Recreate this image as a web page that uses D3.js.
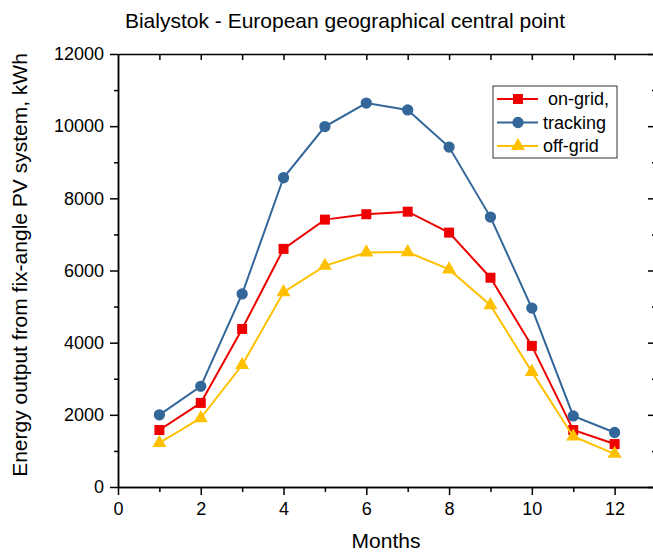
<!DOCTYPE html>
<html>
<head>
<meta charset="utf-8">
<script src="https://cdn.jsdelivr.net/npm/d3@7"></script>
<style>
  body { margin: 0; background: #fff; }
  text { font-family: "Liberation Sans", Arial, sans-serif; fill: #000; }
</style>
</head>
<body>
<div id="chart"></div>
<script>
var months = [1, 2, 3, 4, 5, 6, 7, 8, 9, 10, 11, 12];
var onGrid = [1580, 2330, 4380, 6600, 7410, 7560, 7630, 7050, 5800, 3910, 1580, 1190];
var tracking = [2000, 2790, 5350, 8570, 9990, 10640, 10450, 9420, 7480, 4960, 1970, 1510];
var offGrid = [1220, 1910, 3380, 5400, 6130, 6500, 6510, 6030, 5040, 3190, 1400, 920];
var xTicks = [0, 2, 4, 6, 8, 10, 12];
var yTicks = [0, 2000, 4000, 6000, 8000, 10000, 12000];

var series = [
  { name: " on-grid,", values: onGrid, color: "#ee0000", shape: d3.symbolSquare, size: 100 },
  { name: "tracking", values: tracking, color: "#336699", shape: d3.symbolCircle, size: 100 },
  { name: "off-grid", values: offGrid, color: "#ffc000", shape: d3.symbolTriangle, size: 85 }
];

var svgWidth = 653;
var svgHeight = 554;

var margin = { top: 54, right: -3, bottom: 67, left: 118 };
var chartWidth = svgWidth - margin.left - margin.right;
var chartHeight = svgHeight - margin.top - margin.bottom;

var svg = d3.select("#chart")
  .append("svg")
  .attr("width", svgWidth)
  .attr("height", svgHeight);

var chartGroup = svg.append("g")
  .attr("transform", `translate(${margin.left}, ${margin.top})`);

var xScale = d3.scaleLinear().domain([0, 13]).range([0, chartWidth]);
var yScale = d3.scaleLinear().domain([0, 12000]).range([chartHeight, 0]);

// axes: bottom / left outward, top / right inward
var oddMonths = d3.range(1, 13, 2);
var minorY = d3.range(1000, 12000, 2000);

function styleAxis(g) {
  g.selectAll("path, line").attr("stroke", "#000").attr("stroke-width", 1.5);
  g.selectAll("text").style("font-size", "18px").style("font-family", "Liberation Sans, Arial, sans-serif");
}

chartGroup.append("g")
  .attr("transform", `translate(0, ${chartHeight})`)
  .call(d3.axisBottom(xScale).tickValues(xTicks).tickSize(8).tickPadding(7).tickSizeOuter(0))
  .call(styleAxis);
chartGroup.append("g")
  .attr("transform", `translate(0, ${chartHeight})`)
  .call(d3.axisBottom(xScale).tickValues(oddMonths).tickSize(5).tickFormat("").tickSizeOuter(0))
  .call(styleAxis);

chartGroup.append("g")
  .call(d3.axisLeft(yScale).tickValues(yTicks).tickFormat(d3.format("d")).tickSize(8).tickPadding(6).tickSizeOuter(0))
  .call(styleAxis);
chartGroup.append("g")
  .call(d3.axisLeft(yScale).tickValues(minorY).tickSize(4).tickFormat("").tickSizeOuter(0))
  .call(styleAxis);

chartGroup.append("g")
  .call(d3.axisTop(xScale).tickValues(d3.range(1, 13)).tickSize(-6).tickFormat("").tickSizeOuter(0))
  .call(styleAxis);

chartGroup.append("g")
  .attr("transform", `translate(${chartWidth}, 0)`)
  .call(d3.axisRight(yScale).tickValues(yTicks).tickSize(-8).tickFormat("").tickSizeOuter(0))
  .call(styleAxis);
chartGroup.append("g")
  .attr("transform", `translate(${chartWidth}, 0)`)
  .call(d3.axisRight(yScale).tickValues(minorY).tickSize(-4).tickFormat("").tickSizeOuter(0))
  .call(styleAxis);

// lines and markers
var line = d3.line()
  .x((d, i) => xScale(months[i]))
  .y(d => yScale(d));

series.forEach(function(s) {
  chartGroup.append("path")
    .datum(s.values)
    .attr("fill", "none")
    .attr("stroke", s.color)
    .attr("stroke-width", 2)
    .attr("d", line);

  chartGroup.selectAll(null)
    .data(s.values)
    .enter()
    .append("path")
    .attr("d", d3.symbol().type(s.shape).size(s.size))
    .attr("fill", s.color)
    .attr("transform", (d, i) => `translate(${xScale(months[i])}, ${yScale(d)})`);
});

// legend
var legend = svg.append("g").attr("transform", "translate(493, 86)");
legend.append("rect")
  .attr("width", 124)
  .attr("height", 72)
  .attr("fill", "#fff")
  .attr("stroke", "#333")
  .attr("stroke-width", 1);

series.forEach(function(s, i) {
  var row = legend.append("g").attr("transform", `translate(0, ${13 + i * 23.5})`);
  row.append("line")
    .attr("x1", 4).attr("x2", 45)
    .attr("stroke", s.color).attr("stroke-width", 2);
  row.append("path")
    .attr("d", d3.symbol().type(s.shape).size(s.size))
    .attr("fill", s.color)
    .attr("transform", "translate(25, 0)");
  row.append("text")
    .attr("x", 50)
    .attr("y", 6)
    .style("font-size", "18px")
    .style("white-space", "pre")
    .text(s.name);
});

// titles
svg.append("text")
  .attr("x", 345)
  .attr("y", 28)
  .attr("text-anchor", "middle")
  .style("font-size", "21px")
  .text("Bialystok - European geographical central point");

svg.append("text")
  .attr("x", 386)
  .attr("y", 548)
  .attr("text-anchor", "middle")
  .style("font-size", "21px")
  .text("Months");

svg.append("text")
  .attr("transform", "translate(27, 265) rotate(-90)")
  .attr("text-anchor", "middle")
  .style("font-size", "21px")
  .text("Energy output from fix-angle PV system, kWh");
</script>
</body>
</html>
